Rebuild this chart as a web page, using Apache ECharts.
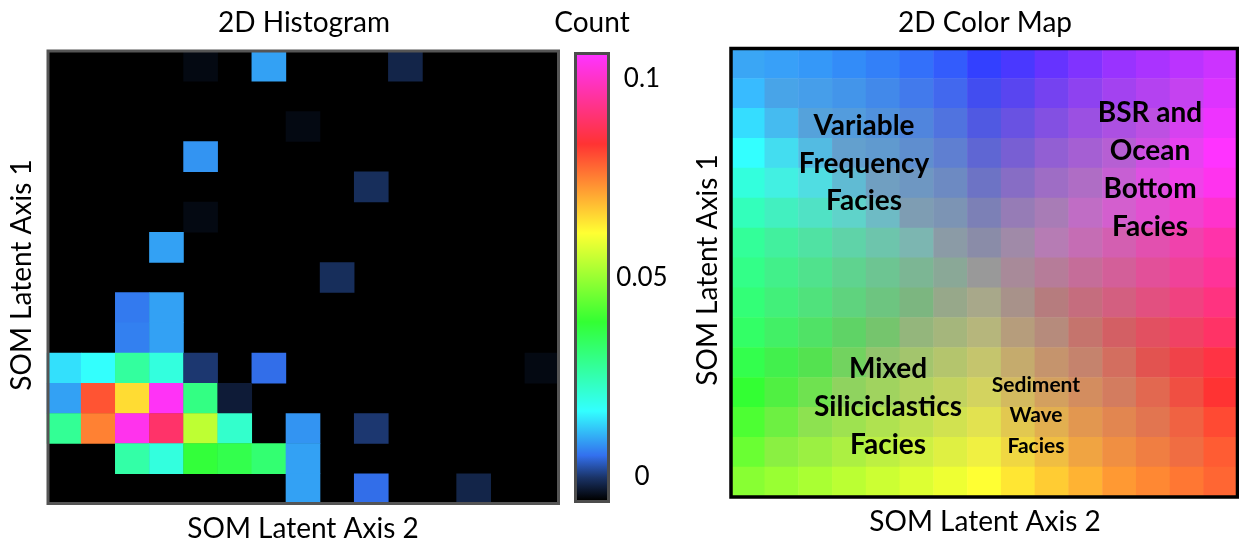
<!DOCTYPE html>
<html>
<head>
<meta charset="utf-8">
<script src="https://cdn.jsdelivr.net/npm/echarts@6/dist/echarts.min.js"></script>
<style>
  html, body { margin: 0; padding: 0; background: #ffffff; }
  #chart { width: 1239px; height: 544px; }
</style>
</head>
<body>
<div id="chart"></div>
<script>
// SOM node indices along both latent axes
const somNodes = ['0', '1', '2', '3', '4', '5', '6', '7', '8', '9', '10', '11', '12', '13', '14'];

// Colour bar
const countTicks = [0, 0.05, 0.1];
const countRange = [-0.006, 0.106];
const countStops = [
  [0.00, '#000000'],
  [0.05, '#1a3366'],
  [0.10, '#3370ee'],
  [0.20, '#33ffff'],
  [0.40, '#33ff33'],
  [0.60, '#ffff33'],
  [0.80, '#ff3333'],
  [1.00, '#ff33ff']
];

// Occupied histogram bins: row counted from the top of the map, column from the left
const binRow = [0, 0, 0, 2, 3, 4, 5, 6, 7, 8, 8, 9, 9,
                10, 10, 10, 10, 10, 10, 10,
                11, 11, 11, 11, 11, 11,
                12, 12, 12, 12, 12, 12, 12, 12,
                13, 13, 13, 13, 13, 13,
                14, 14, 14];
const binCol = [4, 6, 10, 7, 4, 9, 4, 3, 8, 2, 3, 2, 3,
                0, 1, 2, 3, 4, 6, 14,
                0, 1, 2, 3, 4, 5,
                0, 1, 2, 3, 4, 5, 7, 9,
                2, 3, 4, 5, 6, 7,
                7, 9, 12];
const binCount = [-0.005, 0.009, -0.002, -0.005, 0.008, -0.001, -0.005, 0.009, -0.001, 0.006, 0.009, 0.0065, 0.009,
                  0.014, 0.0166, 0.027, 0.020, 0.0, 0.005, -0.005,
                  0.009, 0.080, 0.065, 0.105, 0.030, -0.003,
                  0.028, 0.075, 0.104, 0.0895, 0.054, 0.022, 0.008, 0.0,
                  0.026, 0.020, 0.038, 0.036, 0.032, 0.009,
                  0.009, 0.005, -0.002];

// 2D colour map, one row of node colours per line, top row first
const colorMapRows = [
  ['#3aa6f5','#38a0f8','#3598f8','#338cf8','#3380f8','#3370fa','#335cfc','#3340ff','#4a38ff','#6633ff','#8033ff','#9933ff','#aa33ff','#bb33ff','#cc33ff'],
  ['#38bbff','#48a4e8','#469eea','#4395ea','#4289ea','#427aec','#4268ee','#424df0','#5945f0','#7542f0','#8e42f0','#a342f0','#b442f0','#c542f0','#dd33ff'],
  ['#35ddff','#45bbf0','#55a2db','#539cdd','#5091dd','#5085dd','#5073df','#5059e2','#6952e2','#8350e2','#9b50e2','#ac50e2','#bd50e2','#d642f0','#ee33ff'],
  ['#33ffff','#43ddf0','#53bbe2','#63a0ce','#609acf','#5f8ecf','#5f7fd1','#5f66d3','#785fd3','#925fd3','#a55fd3','#b65fd3','#ce50e2','#e742f0','#ff33ff'],
  ['#33ffdd','#42f0e2','#50dde2','#60bbd3','#709fc1','#6e97c2','#6d8ac2','#6d73c5','#876dc5','#9e6dc5','#af6dc5','#c75fd3','#df50e2','#f042e9','#ff33ee'],
  ['#33ffbb','#42f0c0','#50e2c5','#5fd3ca','#6ebbc5','#7e9db3','#7c94b4','#7c80b6','#967cb6','#a87cb6','#c06dc5','#d35fce','#e250d1','#f042ce','#ff33cc'],
  ['#33ff99','#42f09e','#50e2a3','#5fd3a8','#6dc5ac','#7cb6b1','#8b9ba6','#8a8ca8','#a08aa8','#b67cb4','#c56db4','#d35fb1','#e250af','#f042ac','#ff33aa'],
  ['#33ff88','#42f08a','#50e28d','#5fd38f','#6dc592','#7cb694','#8aa897','#999999','#a88a99','#b67c99','#c56d99','#d35f99','#e25099','#f04299','#ff3399'],
  ['#33ff77','#42f07a','#50e27c','#5fd37e','#6dc580','#7cb680','#97a88a','#a8a88a','#a8928a','#b67c7e','#c56d7e','#d35f80','#e25080','#f04280','#ff3380'],
  ['#33ff66','#42f066','#50e266','#5fd366','#75c56d','#94b67c','#a5b67c','#b6b67c','#b69d7c','#b68b7c','#c5746d','#d35f64','#e25061','#f04264','#ff3366'],
  ['#33ff4d','#42f04d','#54e250','#72d35f','#92c56d','#a3c56d','#b4c56d','#c5c56d','#c5ab6d','#c5946d','#c5836d','#d36e5f','#e25350','#f04249','#ff3344'],
  ['#33ff33','#50f042','#6fe250','#8fd35f','#a0d35f','#b1d35f','#c2d35f','#d3d35f','#d3ba5f','#d3a05f','#d38d5f','#d37c5f','#e26850','#f04f42','#ff3333'],
  ['#4dff33','#6df042','#8de250','#9ee250','#afe250','#c0e250','#d1e250','#e2e250','#e2c850','#e2af50','#e29750','#e28650','#e27550','#f06242','#ff4a33'],
  ['#6aff33','#8af042','#9bf042','#acf042','#bdf042','#cef042','#dff042','#f0f042','#f0d742','#f0be42','#f0a442','#f08f42','#f07e42','#f06d42','#ff5c33'],
  ['#88ff33','#99ff33','#aaff33','#bbff33','#ccff33','#ddff33','#eeff33','#ffff33','#ffe633','#ffcc33','#ffb333','#ff9933','#ff8833','#ff7733','#ff6633']
];

// Facies annotations on the colour map
const faciesLabels = [
  { lines: ['Variable', 'Frequency', 'Facies'], x: 864, y: 126, size: 28, gap: 37.5 },
  { lines: ['BSR and', 'Ocean', 'Bottom', 'Facies'], x: 1150, y: 113, size: 28, gap: 38 },
  { lines: ['Mixed', 'Siliciclastics', 'Facies'], x: 888, y: 369, size: 28, gap: 38 },
  { lines: ['Sediment', 'Wave', 'Facies'], x: 1036, y: 385, size: 21, gap: 30.5 }
];

const FONT = 'Lato, "Open Sans", sans-serif';

function hexToRgb(h) {
  return [1, 3, 5].map(i => parseInt(h.substr(i, 2), 16));
}
function rampAt(t) {
  for (let i = 1; i < countStops.length; i++) {
    const [o1, c1] = countStops[i - 1];
    const [o2, c2] = countStops[i];
    if (t <= o2) {
      const k = (t - o1) / (o2 - o1);
      const a = hexToRgb(c1), b = hexToRgb(c2);
      return 'rgb(' + a.map((v, j) => Math.round(v + (b[j] - v) * k)).join(',') + ')';
    }
  }
  return countStops[countStops.length - 1][1];
}
const rampColors = [];
for (let i = 0; i <= 100; i++) rampColors.push(rampAt(i / 100));

const n = somNodes.length;
const histData = binCount.map((v, i) => [binCol[i], n - 1 - binRow[i], v]);
const mapData = [];
colorMapRows.forEach((row, r) => {
  row.forEach((c, col) => {
    mapData.push({ value: [col, n - 1 - r, 1], itemStyle: { color: c } });
  });
});

// Frames
const HIST = { x: 48, y: 51, w: 510.5, h: 452.5 };
const CMAP = { x: 731, y: 48.5, w: 506.5, h: 448.5 };
const BAR = { x: 577, y: 55, w: 30, h: 445 };

const textStyle = (text, size, weight) => ({
  text, font: (weight ? weight + ' ' : '') + size + 'px ' + FONT,
  fill: '#000', textAlign: 'center', textVerticalAlign: 'middle'
});

const graphics = [
  { type: 'rect', z: 100, shape: { x: HIST.x, y: HIST.y, width: HIST.w, height: HIST.h },
    style: { fill: null, stroke: '#555555', lineWidth: 3 } },
  { type: 'rect', z: 100, shape: { x: CMAP.x, y: CMAP.y, width: CMAP.w, height: CMAP.h },
    style: { fill: null, stroke: '#000000', lineWidth: 3.5 } },
  { type: 'rect', z: 90, shape: { x: BAR.x, y: BAR.y, width: BAR.w, height: BAR.h },
    style: { fill: { type: 'linear', x: 0, y: 1, x2: 0, y2: 0,
      colorStops: countStops.map(([o, c]) => ({ offset: o, color: c })) } } },
  { type: 'rect', z: 100, shape: { x: BAR.x - 1.5, y: BAR.y - 1.5, width: BAR.w + 3, height: BAR.h + 3 },
    style: { fill: null, stroke: '#4d4d4d', lineWidth: 3 } },
  // titles
  { type: 'text', z: 100, x: 304, y: 23, style: textStyle('2D Histogram', 28) },
  { type: 'text', z: 100, x: 592, y: 23, style: textStyle('Count', 28) },
  { type: 'text', z: 100, x: 985, y: 23, style: textStyle('2D Color Map', 28) },
  // axis names
  { type: 'text', z: 100, x: 303, y: 529, style: textStyle('SOM Latent Axis 2', 28) },
  { type: 'text', z: 100, x: 985, y: 522, style: textStyle('SOM Latent Axis 2', 28) },
  { type: 'text', z: 100, x: 22, y: 275, rotation: Math.PI / 2, style: textStyle('SOM Latent Axis 1', 28) },
  { type: 'text', z: 100, x: 708, y: 270, rotation: Math.PI / 2, style: textStyle('SOM Latent Axis 1', 28) }
];
faciesLabels.forEach(lbl => {
  lbl.lines.forEach((t, i) => {
    graphics.push({ type: 'text', z: 110, x: lbl.x, y: lbl.y + i * lbl.gap, style: textStyle(t, lbl.size, 'bold') });
  });
});

const hiddenCat = (gridIndex) => ({
  type: 'category', gridIndex, data: somNodes, show: false,
  axisLine: { show: false }, axisTick: { show: false }, axisLabel: { show: false }, splitLine: { show: false }
});

const chart = echarts.init(document.getElementById('chart'), null, { renderer: 'canvas' });
chart.setOption({
  animation: false,
  backgroundColor: '#ffffff',
  grid: [
    { left: 47, top: 51, width: 512, height: 453, show: true, backgroundColor: '#000000', borderWidth: 0 },
    { left: 731, top: 48.5, width: 506.5, height: 448.5, show: false },
    { left: BAR.x, top: BAR.y, width: BAR.w, height: BAR.h, show: false }
  ],
  xAxis: [
    hiddenCat(0),
    hiddenCat(1),
    { type: 'value', gridIndex: 2, show: false, min: 0, max: 1 }
  ],
  yAxis: [
    hiddenCat(0),
    hiddenCat(1),
    {
      type: 'value', gridIndex: 2, position: 'right',
      min: countRange[0], max: countRange[1],
      axisLine: { show: false }, axisTick: { show: false }, splitLine: { show: false },
      axisLabel: {
        customValues: countTicks,
        formatter: v => String(v),
        align: 'center', margin: 35,
        fontSize: 26, fontFamily: FONT, color: '#000'
      }
    }
  ],
  visualMap: {
    show: false, type: 'continuous', seriesIndex: 0,
    min: countRange[0], max: countRange[1],
    inRange: { color: rampColors }
  },
  series: [
    {
      type: 'heatmap', xAxisIndex: 0, yAxisIndex: 0, data: histData,
      itemStyle: { borderWidth: 0 }, emphasis: { disabled: true }, silent: true
    },
    {
      type: 'heatmap', xAxisIndex: 1, yAxisIndex: 1, data: mapData,
      itemStyle: { borderWidth: 0 }, emphasis: { disabled: true }, silent: true
    }
  ],
  graphic: { elements: graphics }
});
</script>
</body>
</html>
